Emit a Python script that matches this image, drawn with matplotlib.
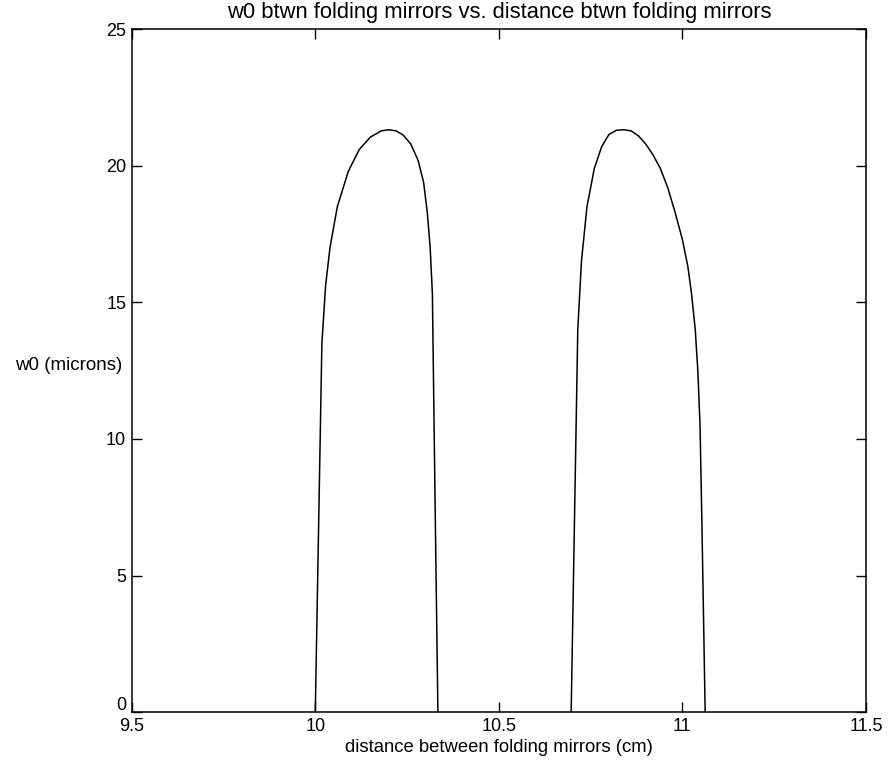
import matplotlib
matplotlib.use('Agg')
import matplotlib.pyplot as plt
from matplotlib.transforms import ScaledTranslation

# first lobe: w0 (microns) vs distance (cm)
dist_a = [10.000, 10.018, 10.028, 10.040, 10.060, 10.090, 10.120, 10.150, 10.180,
          10.200, 10.220, 10.240, 10.260, 10.280, 10.295, 10.305, 10.313, 10.319,
          10.326, 10.334]
w0_a = [0.0, 13.5, 15.6, 17.0, 18.5, 19.8, 20.6, 21.05, 21.28,
        21.32, 21.28, 21.12, 20.8, 20.2, 19.4, 18.3, 17.0, 15.3,
        8.0, 0.0]

# second lobe
dist_b = [10.697, 10.715, 10.725, 10.740, 10.760, 10.780, 10.800, 10.820, 10.840,
          10.860, 10.880, 10.900, 10.920, 10.940, 10.960, 10.980, 11.000, 11.015,
          11.025, 11.035, 11.042, 11.048, 11.053, 11.062]
w0_b = [0.0, 14.0, 16.5, 18.5, 19.9, 20.7, 21.15, 21.3, 21.32,
        21.28, 21.1, 20.8, 20.4, 19.9, 19.2, 18.3, 17.3, 16.3,
        15.3, 14.0, 12.5, 10.5, 7.0, 0.0]

xticks = [9.5, 10, 10.5, 11, 11.5]
yticks = [0, 5, 10, 15, 20, 25]

plt.rcParams['font.family'] = ['Liberation Sans', 'DejaVu Sans']

fig = plt.figure(figsize=(8.9, 7.69), dpi=100)
ax = fig.add_axes([0.148, 0.074, 0.825, 0.888])

ax.plot(dist_a, w0_a, color='black', linewidth=1.1)
ax.plot(dist_b, w0_b, color='black', linewidth=1.1)

ax.set_xlim(9.5, 11.5)
ax.set_ylim(0, 25)
ax.set_xticks(xticks)
ax.set_xticklabels(['9.5', '10', '10.5', '11', '11.5'])
ax.set_yticks(yticks)
ax.tick_params(direction='in', length=7, width=1, top=True, right=True,
               labelsize=13)
ax.tick_params(axis='x', pad=4)
ax.tick_params(axis='y', pad=4)
for s in ax.spines.values():
    s.set_linewidth(1.1)

# lift the "0" so it does not sit on top of "9.5"
lbl0 = ax.get_yticklabels()[0]
lbl0.set_transform(lbl0.get_transform() + ScaledTranslation(0, 6 / 72, fig.dpi_scale_trans))

ax.set_title('w0 btwn folding mirrors vs. distance btwn folding mirrors',
             fontsize=15.8, pad=8)
ax.set_xlabel('distance between folding mirrors (cm)', fontsize=13.3, labelpad=3)
ax.set_ylabel('w0 (microns)', fontsize=13.5, rotation=0, ha='right', va='center')
ax.yaxis.set_label_coords(-0.013, 0.508)

plt.savefig('out.png', dpi=100)
